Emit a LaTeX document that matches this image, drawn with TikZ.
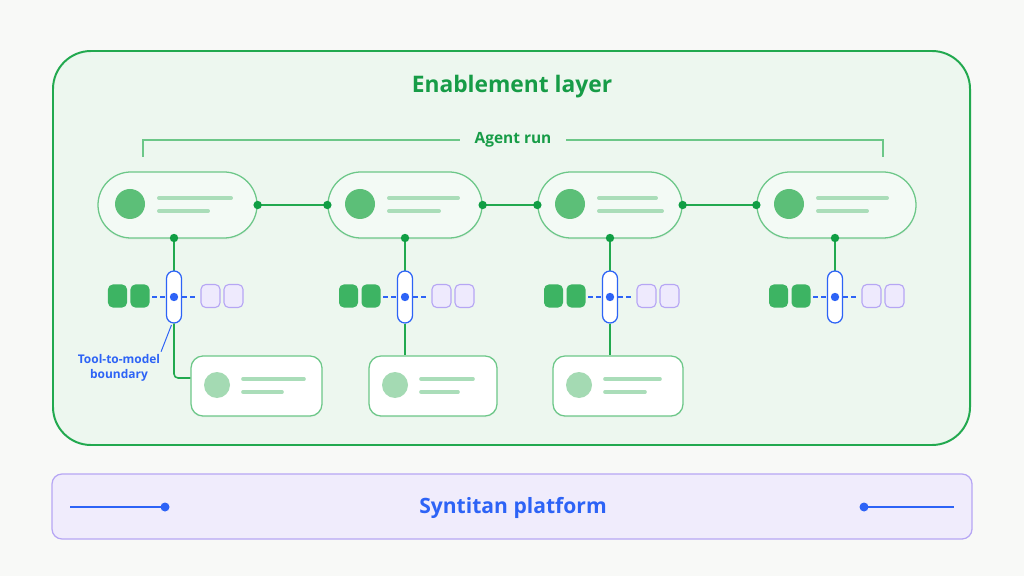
\documentclass[tikz,border=0pt]{standalone}
\usepackage{fontspec}
\setmainfont{Open Sans}
\usetikzlibrary{shadows}

\definecolor{pagebg}{HTML}{F8F9F7}
\definecolor{layerfill}{HTML}{EDF7EF}
\definecolor{layergreen}{HTML}{22A94F}
\definecolor{titlegreen}{HTML}{179C47}
\definecolor{pillfill}{HTML}{F3FAF5}
\definecolor{pillline}{HTML}{6CC788}
\definecolor{dotgreen}{HTML}{109E44}
\definecolor{bulletgreen}{HTML}{5CBF78}
\definecolor{barsgreen}{HTML}{AADDB9}
\definecolor{cardbullet}{HTML}{A4DAB3}
\definecolor{blockgreen}{HTML}{3DB463}
\definecolor{lilacfill}{HTML}{EEEAFD}
\definecolor{lilacline}{HTML}{B6A6F4}
\definecolor{gateblue}{HTML}{2D63F6}
\definecolor{platfill}{HTML}{F0ECFC}

\tikzset{
  step pill/.style={draw=pillline, fill=pillfill, line width=0.9pt, rounded corners=0.825cm,
    minimum height=1.65cm, drop shadow={opacity=0.07, shadow xshift=0pt, shadow yshift=-1.2pt}},
  result card/.style={draw=pillline, fill=white, line width=0.9pt, rounded corners=0.3cm,
    minimum height=1.5cm, drop shadow={opacity=0.06, shadow xshift=0pt, shadow yshift=-1pt}},
  gate/.style={draw=gateblue, fill=white, line width=0.9pt, rounded corners=0.1875cm,
    minimum width=0.375cm, minimum height=1.3cm, inner sep=0pt},
  tok in/.style={fill=blockgreen, rounded corners=0.12cm, minimum width=0.475cm, minimum height=0.575cm, inner sep=0pt},
  tok out/.style={draw=lilacline, fill=lilacfill, line width=0.8pt, rounded corners=0.12cm, minimum width=0.475cm, minimum height=0.575cm, inner sep=0pt},
  bars/.style={line width=2.8pt, line cap=round},
  link/.style={draw=layergreen, line width=1.1pt},
}

\begin{document}
\begin{tikzpicture}[x=0.025cm, y=-0.025cm]
  \useasboundingbox[fill=pagebg] (0,0) rectangle (1024,576);

  % --- Enablement layer ---
  \draw[layergreen, fill=layerfill, line width=1.4pt, rounded corners=0.95cm] (53,51) rectangle (970,445);
  \node[font=\fontsize{16.2}{19}\selectfont\bfseries, titlegreen] (title) at (512,87) {Enablement layer};

  % --- Agent run bracket ---
  \node[font=\fontsize{11}{13}\selectfont\bfseries, titlegreen, inner xsep=0.35cm] (run) at (513,140) {Agent run};
  \draw[pillline, line width=0.9pt] (143,157) |- (run.west);
  \draw[pillline, line width=0.9pt] (883,157) |- (run.east);

  % --- Steps of the run ---
  \foreach \name/\left/\w/\la/\lb in {p1/98/159/72/49, p2/328/154/69/50, p3/538/144/57/63, p4/757/159/69/49} {
    \node[step pill, minimum width=\w*0.025cm] (\name) at ({\left+\w/2},205) {};
    \fill[bulletgreen] ({\left+32},204) circle (15);
    \draw[bars, barsgreen] ({\left+61},198) -- ++(\la,0);
    \draw[bars, barsgreen] ({\left+61},211) -- ++(\lb,0);
  }
  \foreach \a/\b in {p1/p2, p2/p3, p3/p4} {
    \draw[link] (\a.east) -- (\b.west);
    \fill[dotgreen] (\a.east) circle (4.2);
    \fill[dotgreen] (\b.west) circle (4.2);
  }

  % --- Tool-to-model boundaries ---
  \foreach \i/\cx in {1/174, 2/405, 3/610, 4/835} {
    \draw[link] (\cx,238) -- (\cx,271);
    \fill[dotgreen] (\cx,238) circle (4.2);
    \node[tok in] (g\i a) at ({\cx-56.5},296) {};
    \node[tok in] (g\i b) at ({\cx-34},296) {};
    \node[tok out] (v\i a) at ({\cx+36.5},296) {};
    \node[tok out] (v\i b) at ({\cx+59.5},296) {};
    \node[gate] (b\i) at (\cx,297) {};
    \draw[gateblue, line width=1pt, dash pattern=on 3.5pt off 2.5pt] ({\cx-22},297) -- ({\cx-8},297);
    \draw[gateblue, line width=1pt, dash pattern=on 3.5pt off 2.5pt] ({\cx+8},297) -- ({\cx+22},297);
    \fill[gateblue] (b\i) circle (4.2);
  }

  % --- Results back to the model ---
  \foreach \name/\left/\w/\la/\lb in {c1/191/131/61/39, c2/369/128/52/37, c3/553/130/55/40} {
    \node[result card, minimum width=\w*0.025cm] (\name) at ({\left+\w/2},386) {};
    \fill[cardbullet] ({\left+26},385) circle (13);
    \draw[bars, line width=2.6pt, barsgreen] ({\left+52},379) -- ++(\la,0);
    \draw[bars, line width=2.6pt, barsgreen] ({\left+52},392) -- ++(\lb,0);
  }
  \draw[link, rounded corners=0.1cm] (b1.south) |- ([yshift=0.2cm]c1.west);
  \draw[link] (b2.south) -- (b2.south |- c2.north);
  \draw[link] (b3.south) -- (b3.south |- c3.north);

  \node[font=\fontsize{8.5}{10.5}\selectfont\bfseries, gateblue, align=center] (lbl) at (119,368) {Tool-to-model\\boundary};
  \draw[gateblue, line width=0.7pt, shorten >=1pt] ([xshift=-0.1cm,yshift=-0.05cm]lbl.north east) -- ([xshift=-0.05cm]b1.south);

  % --- Syntitan platform ---
  \draw[lilacline, fill=platfill, line width=0.9pt, rounded corners=0.25cm] (52,474) rectangle (972,539);
  \node[font=\fontsize{15}{18}\selectfont\bfseries, gateblue] (plat) at (513,508) {Syntitan platform};
  \coordinate (pl) at (70,507);
  \coordinate (pr) at (954,507);
  \draw[gateblue, line width=1pt] (pl) -- (165,507);
  \fill[gateblue] (165,507) circle (4.5);
  \draw[gateblue, line width=1pt] (864,507) -- (pr);
  \fill[gateblue] (864,507) circle (4.5);
\end{tikzpicture}
\end{document}
